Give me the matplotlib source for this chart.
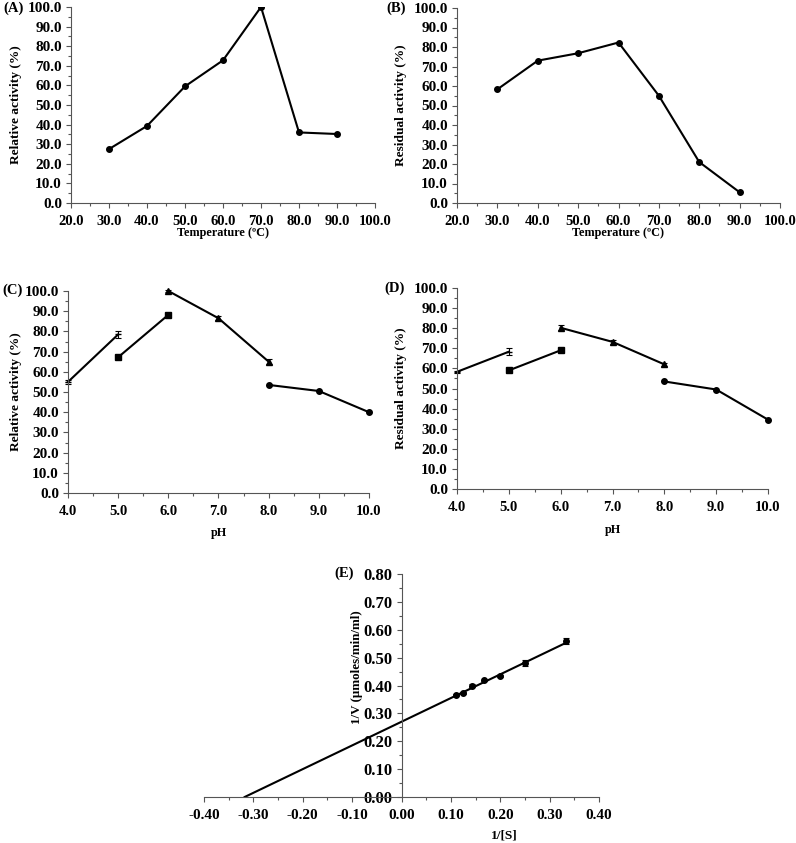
import matplotlib
matplotlib.use("Agg")
import matplotlib.pyplot as plt
from matplotlib.ticker import MultipleLocator, FormatStrFormatter
import numpy as np

plt.rcParams["font.family"] = ["Liberation Serif", "DejaVu Serif"]
plt.rcParams["font.weight"] = "bold"

# --- data ---
temp = [30, 40, 50, 60, 70, 80, 90]
rel_act_temp = [27.5, 39.3, 59.5, 72.8, 100.0, 36.0, 35.2]
res_act_temp = [58.3, 73.0, 76.8, 82.3, 55.0, 21.0, 5.5]

ph_s1 = [4.0, 5.0]
ph_s2 = [5.0, 6.0]
ph_s3 = [6.0, 7.0, 8.0]
ph_s4 = [8.0, 9.0, 10.0]

rel_s1 = [55.0, 78.5]
rel_s1_err = [1.0, 1.8]
rel_s2 = [67.2, 88.2]
rel_s3 = [100.0, 86.5, 65.0]
rel_s3_err = [0.3, 1.0, 1.2]
rel_s4 = [53.5, 50.5, 40.0]

res_s1 = [58.3, 68.3]
res_s1_err = [0.5, 1.7]
res_s2 = [59.0, 69.0]
res_s3 = [80.2, 73.2, 62.0]
res_s3_err = [1.2, 1.0, 0.8]
res_s4 = [53.5, 49.5, 34.5]

inv_s = [0.111, 0.125, 0.143, 0.167, 0.200, 0.250, 0.333]
inv_v = [0.365, 0.372, 0.400, 0.418, 0.435, 0.480, 0.560]
inv_v_err = [0.004, 0.003, 0.004, 0.003, 0.004, 0.010, 0.010]
fit_slope = 0.85
fit_intercept = 0.27

W, H = 796, 843
XTICK_FS = 10.5
YTICK_FS = 11
XLABEL_FS = 8.8
YLABEL_FS = 9.6
PANEL_FS = 10.5

fig = plt.figure(figsize=(W / 100, H / 100), dpi=100)


def axes_px(left, right, top, bottom):
    ax = fig.add_axes([left / W, 1 - bottom / H, (right - left) / W, (bottom - top) / H])
    ax._px = (left, right, top, bottom)
    return ax


def ylabel_at(ax, text, x_px, y_px=None, size=YLABEL_FS):
    left, right, top, bottom = ax._px
    ax.set_ylabel(text, fontsize=size, fontweight="bold")
    yc = 0.5 if y_px is None else (bottom - y_px) / (bottom - top)
    ax.yaxis.set_label_coords((x_px - left) / (right - left), yc)


def xlabel_at(ax, text, y_px, x_px=None, size=XLABEL_FS):
    left, right, top, bottom = ax._px
    ax.set_xlabel(text, fontsize=size, fontweight="bold", va="center")
    xc = 0.5 if x_px is None else (x_px - left) / (right - left)
    ax.xaxis.set_label_coords(xc, (bottom - y_px) / (bottom - top))


def style(ax, xmaj, xmin, ymaj, ymin, fmt_x, fmt_y, xfs=XTICK_FS, yfs=YTICK_FS):
    for s in ("top", "right"):
        ax.spines[s].set_visible(False)
    for s in ("left", "bottom"):
        ax.spines[s].set_linewidth(0.8)
        ax.spines[s].set_color("#555555")
    ax.xaxis.set_major_locator(MultipleLocator(xmaj))
    ax.xaxis.set_minor_locator(MultipleLocator(xmin))
    ax.yaxis.set_major_locator(MultipleLocator(ymaj))
    ax.yaxis.set_minor_locator(MultipleLocator(ymin))
    ax.xaxis.set_major_formatter(FormatStrFormatter(fmt_x))
    ax.yaxis.set_major_formatter(FormatStrFormatter(fmt_y))
    ax.tick_params(which="major", direction="out", length=3.5, width=0.8,
                   color="#555555", pad=3)
    ax.tick_params(which="minor", direction="out", length=2.5, width=0.8,
                   color="#555555")
    ax.tick_params(axis="x", labelsize=xfs, pad=5)
    ax.tick_params(axis="y", labelsize=yfs)
    for lab in ax.get_xticklabels() + ax.get_yticklabels():
        lab.set_fontweight("bold")


def panel_label(text, x_px, y_px):
    fig.text(x_px / W, 1 - y_px / H, text, fontsize=PANEL_FS, fontweight="bold", va="center")


line_kw = dict(color="black", linewidth=1.5)

# (A)
axA = axes_px(71, 375, 7, 203)
axA.plot(temp, rel_act_temp, marker="o", markersize=4, **line_kw)
axA.set_xlim(20, 100)
axA.set_ylim(0, 100)
style(axA, 10, 5, 10, 5, "%.1f", "%.1f")
xlabel_at(axA, "Temperature (ºC)", 233)
ylabel_at(axA, "Relative activity (%)", 22)
panel_label("(A)", 3, 8)

# (B)
axB = axes_px(457, 780, 8, 203)
axB.plot(temp, res_act_temp, marker="o", markersize=4, **line_kw)
axB.set_xlim(20, 100)
axB.set_ylim(0, 100)
style(axB, 10, 5, 10, 5, "%.1f", "%.1f")
xlabel_at(axB, "Temperature (ºC)", 233)
ylabel_at(axB, "Residual activity (%)", 407)
panel_label("(B)", 386, 8)


def ph_panel(ax, s1, e1, s2, s3, e3, s4):
    ax.errorbar(ph_s1, s1, yerr=e1, marker="_", markersize=5, capsize=2.5,
                elinewidth=0.8, capthick=0.8, clip_on=False, **line_kw)
    ax.plot(ph_s2, s2, marker="s", markersize=4, clip_on=False, **line_kw)
    ax.errorbar(ph_s3, s3, yerr=e3, marker="^", markersize=5, capsize=2,
                elinewidth=0.8, capthick=0.8, clip_on=False, **line_kw)
    ax.plot(ph_s4, s4, marker="o", markersize=4, clip_on=False, **line_kw)
    ax.set_xlim(4, 10)
    ax.set_ylim(0, 100)
    style(ax, 1, 0.5, 10, 5, "%.1f", "%.1f")


# (C)
axC = axes_px(68, 369, 291, 493)
ph_panel(axC, rel_s1, rel_s1_err, rel_s2, rel_s3, rel_s3_err, rel_s4)
xlabel_at(axC, "pH", 533)
ylabel_at(axC, "Relative activity (%)", 22)
panel_label("(C)", 2, 290)

# (D)
axD = axes_px(457, 768, 288, 489)
ph_panel(axD, res_s1, res_s1_err, res_s2, res_s3, res_s3_err, res_s4)
xlabel_at(axD, "pH", 530)
ylabel_at(axD, "Residual activity (%)", 407)
panel_label("(D)", 384, 288)

# (E) Lineweaver-Burk
axE = axes_px(204, 599, 574, 797)
x_root = -fit_intercept / fit_slope
fit_x = np.array([x_root, max(inv_s)])
axE.plot(fit_x, fit_intercept + fit_slope * fit_x, color="black", linewidth=1.5)
axE.errorbar(inv_s, inv_v, yerr=inv_v_err, fmt="o", color="black", markersize=4,
             capsize=2, elinewidth=0.8, capthick=0.8)
axE.set_xlim(-0.4, 0.4)
axE.set_ylim(0, 0.8)
axE.spines["left"].set_position(("data", 0))
style(axE, 0.1, 0.05, 0.1, 0.05, "%.2f", "%.2f", xfs=11, yfs=12)
xlabel_at(axE, "1/[S]", 835, x_px=504, size=9.6)
fig.text(357 / W, 1 - 667 / H, "1/V (µmoles/min/ml)", fontsize=9.4,
         fontweight="bold", rotation=90, ha="center", va="center")
panel_label("(E)", 334, 573)

fig.savefig("out.png", dpi=100)
